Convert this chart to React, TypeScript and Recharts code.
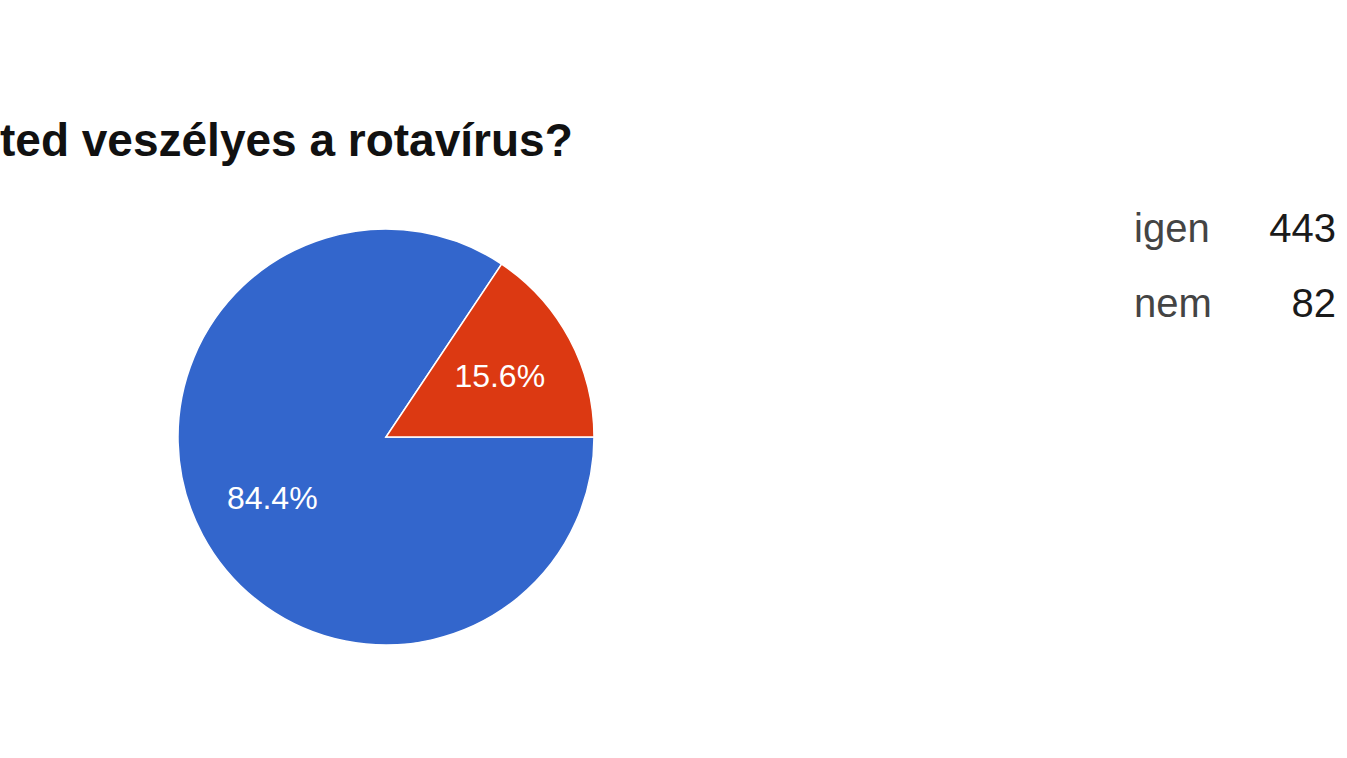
import { PieChart, Pie, Cell } from "recharts";

const categories = ["igen", "nem"];
const counts = [443, 82];
const sliceColors = ["#3366CC", "#DC3912"];
const titleText = "ted veszélyes a rotavírus?";

const data = categories.map((name, i) => ({ name, value: counts[i] }));

const RADIAN = Math.PI / 180;

function renderPercent(props: any) {
  const { cx, cy, midAngle, outerRadius, percent } = props;
  const r = outerRadius * 0.62;
  const x = cx + r * Math.cos(-midAngle * RADIAN);
  const y = cy + r * Math.sin(-midAngle * RADIAN);
  return (
    <text
      x={x}
      y={y}
      fill="#ffffff"
      textAnchor="middle"
      dominantBaseline="central"
      fontFamily="'Liberation Sans', Arial, sans-serif"
      fontSize={32}
    >
      {`${(percent * 100).toFixed(1)}%`}
    </text>
  );
}

export default function App() {
  return (
    <div
      style={{
        position: "absolute",
        left: 0,
        top: 0,
        width: 1347,
        height: 758,
        background: "#ffffff",
        overflow: "hidden",
        fontFamily: "'Liberation Sans', Arial, sans-serif",
      }}
    >
      <div
        style={{
          position: "absolute",
          left: 0,
          top: 112,
          fontSize: 46,
          fontWeight: "bold",
          color: "#111",
          whiteSpace: "nowrap",
          lineHeight: "56px",
        }}
      >
        {titleText}
      </div>
      <PieChart width={1347} height={758}>
        <Pie
          data={data}
          dataKey="value"
          nameKey="name"
          cx={381}
          cy={432}
          outerRadius={208}
          startAngle={360}
          endAngle={0}
          stroke="#ffffff"
          strokeWidth={1.5}
          labelLine={false}
          label={renderPercent}
          isAnimationActive={false}
        >
          {data.map((d, i) => (
            <Cell key={d.name} fill={sliceColors[i]} />
          ))}
        </Pie>
      </PieChart>
      {data.map((d, i) => (
        <div
          key={d.name}
          style={{
            position: "absolute",
            left: 1110,
            top: 204 + i * 75,
            width: 226,
            height: 48,
            fontSize: 40,
            lineHeight: "48px",
            whiteSpace: "nowrap",
          }}
        >
          <span style={{ position: "absolute", left: 24, color: "#444" }}>{d.name}</span>
          <span style={{ position: "absolute", right: 0, color: "#1a1a1a" }}>{d.value}</span>
        </div>
      ))}
    </div>
  );
}
